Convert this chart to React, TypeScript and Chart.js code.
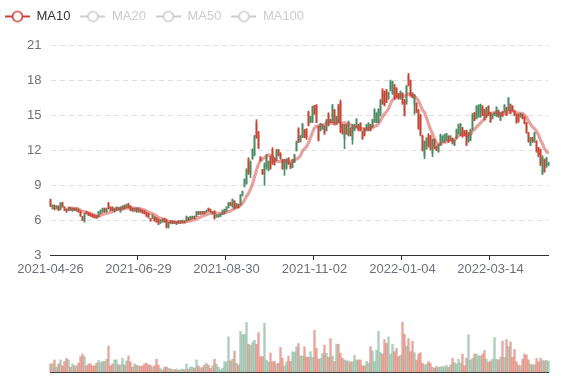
import React, { useEffect, useRef } from 'react';
import { Chart, registerables } from 'chart.js';

Chart.register(...registerables);

// x-axis tick labels, one every `tickEvery` trading days
const tickLabels = ['2021-04-26', '2021-06-29', '2021-08-30', '2021-11-02', '2022-01-04', '2022-03-14'];
const tickEvery = 44;

// daily candles: [open, close, low, high]
const ohlc: [number, number, number, number][] = [
  [7.72,7.2,7.14,7.8],[7.0,7.26,6.94,7.31],[7.24,6.92,6.86,7.29],[6.97,7.18,6.94,7.23],[7.18,6.86,6.8,7.23],
  [6.9,7.45,6.86,7.51],[7.45,7.12,7.09,7.51],[7.1,6.85,6.8,7.14],[6.92,6.7,6.66,6.97],[6.83,7.05,6.8,7.09],
  [7.04,6.86,6.8,7.09],[6.8,6.98,6.74,7.03],[6.99,6.84,6.8,7.03],[6.8,6.98,6.74,7.03],[6.92,6.7,6.66,6.94],
  [6.74,6.36,6.31,6.8],[6.28,5.98,5.94,6.31],[5.92,6.5,5.8,6.57],[6.7,6.54,6.51,6.74],[6.62,6.42,6.37,6.66],
  [6.52,6.35,6.31,6.57],[6.46,6.27,6.23,6.51],[6.4,6.2,6.17,6.43],[6.33,6.17,6.14,6.37],[6.28,6.68,6.23,6.74],
  [6.55,6.82,6.51,6.86],[6.7,6.98,6.66,7.03],[6.98,6.72,6.66,7.03],[6.72,6.98,6.66,7.03],[7.45,7.0,6.94,7.51],
  [7.1,6.85,6.8,7.14],[7.08,6.84,6.8,7.14],[6.72,6.98,6.66,7.03],[6.85,7.1,6.8,7.14],[7.06,6.9,6.86,7.09],
  [6.72,7.08,6.66,7.14],[6.9,7.18,6.86,7.23],[7.25,7.0,6.94,7.29],[7.06,7.32,7.03,7.37],[7.38,7.08,7.03,7.43],
  [7.18,6.86,6.8,7.23],[7.0,6.78,6.74,7.03],[6.78,6.98,6.74,7.03],[6.98,6.72,6.66,7.03],[6.72,6.98,6.66,7.03],
  [6.9,6.7,6.66,6.94],[6.82,6.6,6.57,6.86],[6.76,6.55,6.51,6.8],[6.62,6.34,6.29,6.66],[6.52,6.22,6.17,6.57],
  [6.1,5.93,5.89,6.14],[6.12,6.42,6.09,6.46],[6.25,5.94,5.89,6.29],[6.18,5.85,5.8,6.23],[6.04,5.65,5.6,6.09],
  [5.74,5.96,5.71,6.0],[5.84,6.05,5.8,6.09],[6.12,5.85,5.8,6.17],[6.0,5.38,5.31,6.09],[5.36,5.75,5.31,5.8],
  [5.9,5.75,5.71,5.94],[5.7,5.9,5.66,5.94],[5.9,5.75,5.71,5.94],[5.64,5.85,5.6,5.89],[5.9,5.75,5.71,5.94],
  [5.75,5.9,5.71,5.94],[5.8,5.96,5.77,6.0],[5.92,5.8,5.77,5.94],[5.93,6.3,5.89,6.34],[6.2,5.98,5.94,6.23],
  [6.03,6.3,6.0,6.34],[6.12,6.3,6.09,6.34],[6.3,6.12,6.09,6.34],[6.33,6.7,6.29,6.74],[6.7,6.5,6.46,6.74],
  [6.5,6.7,6.46,6.74],[6.7,6.55,6.51,6.74],[6.7,6.54,6.51,6.74],[6.68,6.83,6.66,6.86],[7.0,6.78,6.74,7.03],
  [6.9,6.7,6.66,6.94],[6.54,6.7,6.51,6.74],[6.75,6.15,6.09,6.8],[6.26,6.42,6.23,6.46],[6.27,6.43,6.23,6.46],
  [6.32,6.53,6.29,6.57],[6.5,6.82,6.46,6.86],[6.55,6.9,6.51,6.94],[6.78,7.1,6.74,7.14],[7.07,7.46,7.03,7.51],
  [7.48,7.26,7.23,7.51],[7.14,7.75,7.09,7.8],[7.6,7.0,6.94,7.66],[7.06,7.38,7.03,7.43],[7.33,7.07,7.03,7.37],
  [7.35,8.1,7.25,8.2],[8.1,8.44,8.06,8.49],[8.88,9.48,8.83,9.54],[9.12,10.3,9.06,10.4],[11.2,10.0,9.91,11.34],
  [9.9,10.95,9.63,11.06],[11.25,12.0,11.2,12.11],[11.6,13.15,11.49,13.26],[14.3,13.1,13.0,14.6],[13.5,12.2,12.11,13.6],
  [11.4,11.1,11.06,11.43],[10.3,9.95,9.91,10.34],[9.9,10.8,8.97,10.9],[10.5,11.55,10.34,11.63],[10.3,11.0,10.2,11.06],
  [11.4,10.45,10.34,11.49],[12.05,10.9,10.77,12.2],[11.3,10.75,10.69,11.34],[11.1,11.95,11.06,12.06],[12.0,11.55,11.49,12.06],
  [11.72,11.25,11.2,11.77],[11.15,10.4,10.34,11.2],[10.4,11.1,9.83,11.2],[10.5,11.2,10.34,11.26],[11.3,10.8,10.77,11.34],
  [10.88,10.45,10.4,10.91],[10.52,11.15,10.49,11.2],[10.95,11.58,10.91,11.63],[11.95,12.7,11.91,12.77],[13.8,12.7,12.63,13.91],
  [12.72,13.2,12.69,13.26],[13.1,14.2,13.06,14.29],[13.72,13.1,13.06,13.77],[13.78,13.0,12.91,13.83],[15.25,14.12,14.06,15.34],
  [14.38,14.85,14.34,14.91],[14.4,15.7,14.34,15.77],[15.78,15.1,15.06,15.83],[15.8,14.4,14.34,15.91],[14.0,12.85,12.77,14.06],
  [13.68,14.22,13.63,14.29],[13.8,14.15,13.77,14.2],[14.0,13.4,13.34,14.06],[13.68,14.55,13.63,14.63],[15.1,14.12,14.06,15.2],
  [14.6,14.38,14.34,14.63],[14.4,15.85,14.34,15.91],[15.4,14.25,14.2,15.49],[14.25,14.85,14.2,14.91],[15.8,14.4,14.34,15.91],
  [16.1,13.6,13.49,16.29],[14.15,13.4,13.34,14.2],[13.0,14.1,12.11,14.2],[14.15,13.4,13.34,14.2],[13.25,14.4,13.2,14.49],
  [13.85,13.25,13.2,13.91],[12.9,14.1,12.49,14.2],[13.68,14.15,13.63,14.2],[13.95,14.6,13.91,14.69],[14.15,13.68,13.63,14.2],
  [14.3,13.68,13.63,14.34],[13.58,12.96,12.91,13.63],[13.85,13.25,13.2,13.91],[13.68,14.15,13.63,14.2],[13.68,14.3,13.63,14.34],
  [14.15,13.68,13.63,14.2],[13.95,14.58,13.91,14.63],[14.4,15.45,14.34,15.54],[14.4,15.15,14.34,15.2],[14.4,15.48,14.34,15.54],
  [15.0,16.25,14.91,16.34],[17.15,16.0,15.91,17.26],[17.0,15.85,15.77,17.06],[17.1,16.12,16.06,17.2],[16.4,16.9,16.34,16.97],
  [17.1,17.9,17.06,18.0],[16.85,17.85,16.77,17.91],[17.55,16.42,16.34,17.63],[17.3,16.55,16.49,17.34],[16.82,16.4,16.34,16.86],
  [16.4,17.0,16.34,17.06],[16.85,16.0,15.91,16.91],[16.25,15.0,14.91,16.34],[16.0,17.45,15.91,17.54],[18.45,17.55,17.49,18.57],
  [17.9,16.7,16.63,18.0],[16.88,16.52,16.49,16.91],[15.9,16.7,15.06,16.77],[16.0,15.25,15.2,16.06],[15.4,13.85,13.77,15.49],
  [14.95,13.3,13.2,15.06],[13.2,12.0,11.91,13.26],[11.5,12.7,11.26,12.77],[12.1,13.0,12.06,13.06],[13.3,12.35,12.25,13.4],
  [13.2,12.1,12.0,13.25],[11.7,12.85,11.43,12.94],[12.9,12.15,12.09,12.94],[12.33,12.0,11.94,12.37],[11.85,12.45,11.8,12.51],
  [12.42,13.3,12.37,13.37],[12.7,13.18,12.66,13.23],[12.7,13.3,12.66,13.37],[12.85,13.38,12.8,13.43],[13.18,12.7,12.66,13.23],
  [12.85,13.18,12.8,13.23],[13.0,12.56,12.51,13.03],[12.42,12.8,12.37,12.86],[13.0,13.72,12.94,13.8],[13.42,14.15,13.37,14.23],
  [13.3,14.2,13.23,14.29],[13.88,13.15,13.09,13.94],[13.62,13.28,13.23,13.66],[13.65,12.45,12.37,13.71],[12.72,13.45,12.66,13.51],
  [12.85,13.72,12.8,13.8],[13.78,15.05,13.71,15.14],[15.18,14.56,14.51,15.23],[14.7,15.72,14.66,15.8],[14.85,15.82,14.8,15.89],
  [14.85,15.88,14.8,15.94],[15.75,15.0,14.94,15.8],[15.45,14.62,14.57,15.51],[14.85,15.6,14.8,15.66],[15.75,15.0,14.94,15.8],
  [15.18,14.42,14.37,15.23],[14.7,15.05,14.66,15.09],[14.98,15.2,14.94,15.23],[14.9,15.65,14.86,15.71],[15.38,14.85,14.8,15.43],
  [14.56,15.18,14.51,15.23],[15.28,14.9,14.86,15.31],[15.28,15.84,15.23,15.89],[15.6,15.0,14.94,15.66],[15.42,16.4,15.37,16.51],
  [15.88,15.15,15.09,15.94],[15.75,15.35,15.31,15.8],[15.33,15.0,14.94,15.37],[15.05,14.35,14.29,15.09],[15.03,14.42,14.37,15.09],
  [14.84,15.1,14.8,15.14],[15.05,14.7,14.66,15.09],[14.82,14.28,14.23,14.86],[14.3,13.5,13.43,14.37],[13.45,12.72,12.66,13.51],
  [12.42,13.02,12.37,13.09],[13.05,12.7,12.66,13.09],[12.72,13.45,12.66,13.51],[12.75,11.85,11.8,12.8],[12.18,11.5,11.43,12.23],
  [12.0,10.75,10.66,12.09],[10.0,11.4,9.89,11.51],[11.15,10.15,10.09,11.23],[10.56,11.3,10.51,11.37],[10.7,10.9,10.66,10.94],
];

// daily volume (arbitrary units)
const volumes: number[] = [
  83,83,123,50,83,123,63,107,140,123, 50,83,63,63,90,157,183,157,63,83,
  83,63,63,90,117,97,107,107,130,263, 63,83,123,123,73,73,140,73,113,163,
  103,50,83,70,63,57,63,83,90,73, 70,50,63,130,70,33,23,47,53,37,
  30,23,23,30,17,23,30,23,83,30, 50,50,40,123,63,43,47,73,90,70,
  37,63,130,80,50,23,40,103,103,357, 113,130,213,90,73,413,380,383,503,283,
  273,303,323,283,400,157,157,497,120,100, 193,103,110,83,90,250,140,63,103,163,
  107,207,203,257,290,163,163,257,153,150, 207,150,423,240,130,140,190,273,190,150,
  340,163,107,283,283,190,140,123,113,113, 103,103,170,123,123,123,63,63,107,90,
  257,213,107,223,413,197,183,330,290,357, 183,280,207,240,157,173,507,383,263,340,
  207,313,197,123,183,197,90,73,80,107, 90,50,40,57,47,53,53,53,70,47,
  73,140,97,83,130,90,183,63,140,380, 123,140,183,183,163,163,183,220,130,97,
  113,130,350,130,123,150,313,150,330,257, 307,150,230,103,70,63,130,183,173,123,
  80,73,73,137,103,140,117,113,120,110,
];

const maPeriods = [10, 20, 50, 100];

const UP = '#4c8e64';
const DOWN = '#c84433';
const UP_VOL = 'rgba(92,157,118,0.5)';
const DOWN_VOL = 'rgba(212,77,59,0.5)';
const MA_COLOR = '#c9403a';
const AXIS_TEXT = '#6E7079';
const FONT = '"Liberation Sans", Arial, sans-serif';

function movingAverage(period: number) {
  return ohlc.map((_, i) => {
    if (i < period - 1) return null;
    let s = 0;
    for (let k = i - period + 1; k <= i; k++) s += ohlc[k][1];
    return s / period;
  });
}

function legendIcon(color: string) {
  const c = document.createElement('canvas');
  c.width = 25;
  c.height = 14;
  const g = c.getContext('2d')!;
  g.strokeStyle = color;
  g.lineWidth = 2;
  g.beginPath();
  g.moveTo(0, 7);
  g.lineTo(25, 7);
  g.stroke();
  g.beginPath();
  g.arc(12.5, 7, 5, 0, Math.PI * 2);
  g.fillStyle = '#fff';
  g.fill();
  g.lineWidth = 1.6;
  g.stroke();
  return c;
}

export default function App() {
  const mainRef = useRef<HTMLCanvasElement>(null);
  const volRef = useRef<HTMLCanvasElement>(null);

  useEffect(() => {
    Chart.defaults.font.family = FONT;
    Chart.defaults.font.size = 13;
    Chart.defaults.color = AXIS_TEXT;

    const categories = ohlc.map((_, i) => String(i));
    const up = ohlc.map((d) => d[1] >= d[0]);
    const candleColors = up.map((u) => (u ? UP : DOWN));
    const volColors = up.map((u) => (u ? UP_VOL : DOWN_VOL));
    const icons = maPeriods.map((_, k) => legendIcon(k === 0 ? MA_COLOR : '#cccccc'));

    const maSets = maPeriods.map((p, k) => ({
      type: 'line' as const,
      label: 'MA' + p,
      data: movingAverage(p),
      borderColor: 'rgba(205,70,62,0.5)',
      borderWidth: 3.2,
      pointRadius: 0,
      tension: 0.35,
      hidden: k !== 0,
      order: 0,
      clip: false as any,
    }));

    const main = new Chart(mainRef.current!, {
      type: 'bar',
      data: {
        labels: categories,
        datasets: [
          ...maSets,
          {
            type: 'bar',
            label: 'body',
            data: ohlc.map((d) => [d[0], d[1]]),
            backgroundColor: candleColors,
            barThickness: 1,
            grouped: false,
            order: 1,
            clip: false as any,
          },
          {
            type: 'bar',
            label: 'wick',
            data: ohlc.map((d) => [d[2], d[3]]),
            backgroundColor: candleColors,
            barThickness: 1,
            grouped: false,
            order: 2,
            clip: false as any,
          },
        ] as any,
      },
      options: {
        animation: false,
        responsive: false,
        devicePixelRatio: 1,
        layout: { padding: { left: 0, right: 28.5, top: 0, bottom: 0 } },
        plugins: {
          tooltip: { enabled: false },
          // empty spacer box placed between the legend and the plot area
          title: { display: true, text: '', weight: 500, padding: 0, font: { size: 10 } },
          legend: {
            display: true,
            position: 'top',
            align: 'start',
            onClick: () => {},
            labels: {
              usePointStyle: true,
              pointStyleWidth: 25,
              boxHeight: 13,
              padding: 10,
              font: { size: 13, family: FONT },
              generateLabels: () =>
                maPeriods.map((p, k) => ({
                  text: 'MA' + p,
                  fillStyle: 'rgba(0,0,0,0)',
                  strokeStyle: 'rgba(0,0,0,0)',
                  lineWidth: 0,
                  hidden: false,
                  datasetIndex: k,
                  pointStyle: icons[k] as any,
                  fontColor: k === 0 ? '#333333' : '#cccccc',
                })),
            },
          },
        },
        scales: {
          x: {
            type: 'category',
            offset: false,
            grid: {
              display: true,
              drawOnChartArea: false,
              drawTicks: true,
              tickLength: 5,
              color: (ctx: any) => (ctx.index % tickEvery === 0 ? '#333333' : 'rgba(0,0,0,0)'),
            },
            border: { display: true, color: '#333333', width: 1 },
            ticks: {
              autoSkip: false,
              maxRotation: 0,
              minRotation: 0,
              padding: 2,
              color: AXIS_TEXT,
              font: { size: 13, family: FONT },
              callback: (_v: any, i: number) =>
                i % tickEvery === 0 ? tickLabels[i / tickEvery] ?? '' : '',
            },
            afterFit: (s: any) => {
              s.height = 30;
            },
          },
          y: {
            min: 3,
            max: 21,
            ticks: { stepSize: 3, padding: 9, color: AXIS_TEXT, font: { size: 13, family: FONT } },
            grid: { color: '#e0e0e0', drawTicks: false, lineWidth: 1 },
            border: { display: false, dash: [5, 4] },
            afterFit: (s: any) => {
              s.width = 55.5;
            },
          },
        },
      } as any,
    });

    const vol = new Chart(volRef.current!, {
      type: 'bar',
      data: {
        labels: categories,
        datasets: [
          {
            label: 'Volume',
            data: volumes,
            backgroundColor: volColors,
            barThickness: 1.7,
            clip: false as any,
          },
        ],
      },
      options: {
        animation: false,
        responsive: false,
        devicePixelRatio: 1,
        layout: { padding: { left: 50.5, right: 28.5, top: 23, bottom: 0 } },
        plugins: { legend: { display: false }, tooltip: { enabled: false } },
        scales: {
          x: {
            type: 'category',
            offset: false,
            grid: { display: false },
            border: { display: true, color: '#333333', width: 1 },
            ticks: { display: false },
            afterFit: (s: any) => {
              s.height = 8;
            },
          },
          y: { display: false, min: 0, max: 600 },
        },
      } as any,
    });

    return () => {
      main.destroy();
      vol.destroy();
    };
  }, []);

  return (
    <div
      style={{
        position: 'absolute',
        left: 0,
        top: 0,
        width: 577,
        height: 380,
        overflow: 'hidden',
        background: '#ffffff',
      }}
    >
      <canvas ref={mainRef} width={582} height={285} style={{ position: 'absolute', left: -5, top: 0 }} />
      <canvas ref={volRef} width={577} height={90} style={{ position: 'absolute', left: 0, top: 290 }} />
    </div>
  );
}
